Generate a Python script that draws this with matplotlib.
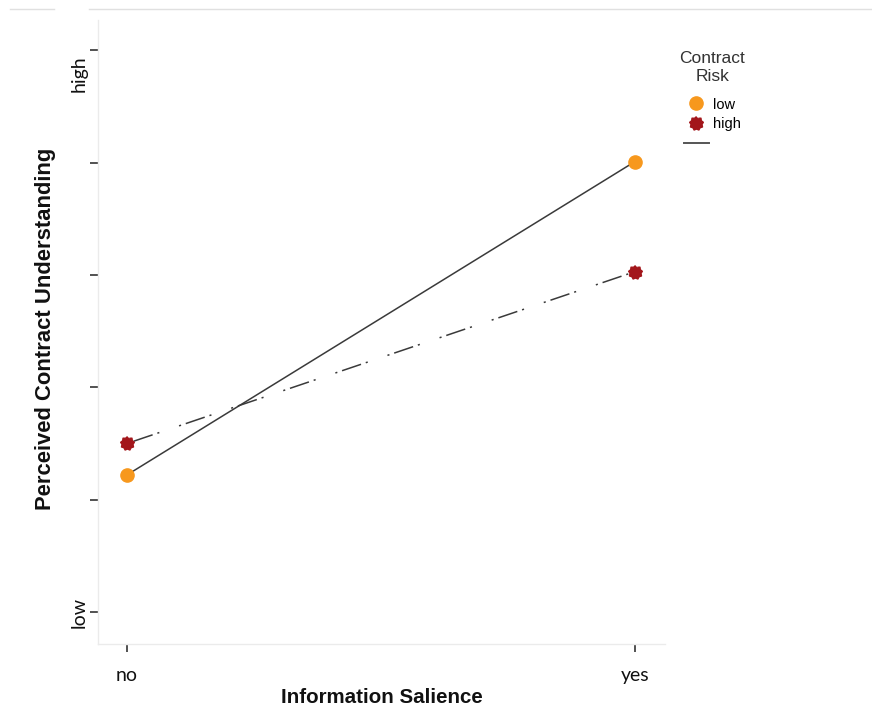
import numpy as np
import matplotlib
matplotlib.use("Agg")
import matplotlib.pyplot as plt
import matplotlib.transforms as mtransforms
from matplotlib.lines import Line2D

plt.rcParams["lines.scale_dashes"] = False

# interaction plot: salience x contract risk
salience = ["no", "yes"]
risk_levels = ["low", "high"]
understanding_low = [1.22, 4.01]
understanding_high = [1.50, 3.03]
y_ticks = [0, 1, 2, 3, 4, 5]
y_tick_labels = ["low", "", "", "", "", "high"]

orange = "#f7981d"
darkred = "#a3161b"
line_col = "#3a3a3a"
spine_col = "#ebebeb"

# bumpy round marker for the high-risk group
n = 18
ang = np.linspace(0, 2 * np.pi, n, endpoint=False) + np.pi / 2
rad = np.where(np.arange(n) % 2 == 0, 1.0, 0.80)
bumpy = list(zip(rad * np.cos(ang), rad * np.sin(ang)))

fig = plt.figure(figsize=(8.72, 7.11), dpi=100)
ax = fig.add_axes([98 / 872, 1 - 644 / 711, 567 / 872, 624 / 711])

x = np.arange(len(salience))
ax.plot(x, understanding_low, color=line_col, lw=1.1, solid_capstyle="butt", zorder=2)
ax.plot(x, understanding_high, color=line_col, lw=1.1,
        dashes=(1.5, 3.6, 14.4, 3.6, 1.5, 15.0), zorder=2)
ax.plot(x, understanding_low, ls="none", marker="o", ms=9.5,
        mfc=orange, mec=orange, zorder=3)
ax.plot(x, understanding_high, ls="none", marker=bumpy, ms=10,
        mfc=darkred, mec=darkred, zorder=3)

ax.set_xlim(-0.057, 1.059)
ax.set_ylim(-0.285, 5.27)
ax.set_xticks(x)
ax.set_xticklabels(salience)
ax.set_yticks(y_ticks)
ax.set_yticklabels(y_tick_labels, rotation=90, va="center")

for side in ["top", "right"]:
    ax.spines[side].set_visible(False)
for side in ["left", "bottom"]:
    ax.spines[side].set_color(spine_col)
    ax.spines[side].set_linewidth(1.0)

ax.tick_params(axis="y", length=5.8, width=1.2, color="#333333", pad=1.5,
               labelsize=14, labelcolor="#111111")
ax.tick_params(axis="x", length=5.5, width=1.2, color="#333333", pad=11,
               labelsize=14, labelcolor="#111111")
for lab in ax.get_yticklabels() + ax.get_xticklabels():
    lab.set_fontfamily("Lato")

# "high" sits just below its tick
hi = ax.get_yticklabels()[-1]
hi.set_va("top")
hi.set_transform(hi.get_transform()
                 + mtransforms.ScaledTranslation(0, -5 / 100, fig.dpi_scale_trans))

ax.set_xlabel("Information Salience", fontfamily="Liberation Sans",
              fontweight="bold", fontsize=14.8, color="#111111")
ax.set_ylabel("Perceived Contract Understanding", fontfamily="Liberation Sans",
              fontweight="bold", fontsize=15.8, color="#111111")
ax.xaxis.set_label_coords(0.5, -0.071)
ax.yaxis.set_label_coords(-0.0745, 0.505)

handles = [
    Line2D([], [], ls="none", marker="o", ms=9.5, mfc=orange, mec=orange),
    Line2D([], [], ls="none", marker=bumpy, ms=10, mfc=darkred, mec=darkred),
    Line2D([], [], color="#555555", lw=1.4),
]
leg = fig.legend(handles, risk_levels + [""], title="Contract\nRisk",
                 loc="upper left", bbox_to_anchor=(667 / 872, 1 - 39 / 711),
                 frameon=False, borderpad=0.85, borderaxespad=0,
                 handlelength=1.7, handletextpad=0.3, labelspacing=0.38,
                 prop={"family": "Liberation Sans", "size": 10.5},
                 title_fontproperties={"family": "Liberation Sans", "size": 12.5})
leg.get_title().set_color("#333333")
leg.get_title().set_multialignment("center")
leg.get_title().set_linespacing(1.25)
leg._legend_box.align = "center"
leg._legend_box.sep = 9.5

# thin grey rule along the top edge
fig.add_artist(Line2D([10 / 872, 54 / 872], [1 - 9 / 711] * 2, color="#e0e0e0", lw=1.0))
fig.add_artist(Line2D([89 / 872, 1.0], [1 - 9 / 711] * 2, color="#e0e0e0", lw=1.0))

fig.savefig("out.png", dpi=100)
